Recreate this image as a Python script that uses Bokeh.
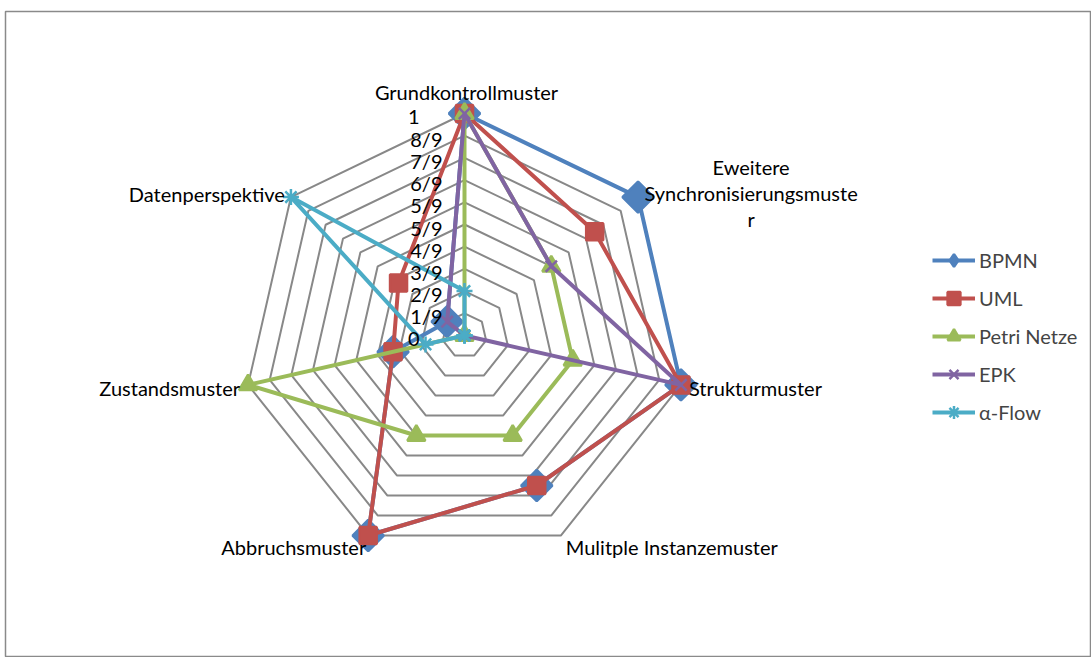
import numpy as np
from bokeh.plotting import figure
from bokeh.models import Range1d, Legend, LegendItem, ColumnDataSource
from bokeh.embed import file_html
from bokeh.resources import INLINE
from bokeh.core.properties import value

# ---------------- data ----------------
categories = ["Grundkontrollmuster", "Eweitere\nSynchronisierungsmuste\nr", "Strukturmuster",
              "Mulitple Instanzemuster", "Abbruchsmuster", "Zustandsmuster", "Datenperspektive"]
series_names = ["BPMN", "UML", "Petri Netze", "EPK", "α-Flow"]
bpmn = [1.0, 1.0, 1.0, 0.75, 1.0, 0.33, 0.1]
uml = [1.0, 0.75, 1.0, 0.75, 1.0, 0.33, 0.38]
petri = [1.0, 0.5, 0.5, 0.5, 0.5, 1.0, 0.0]
epk = [1.0, 0.5, 1.0, 0.0, 0.0, 0.0, 0.1]
alpha_flow = [0.2, 0.0, 0.0, 0.0, 0.0, 0.18, 1.0]
ring_values = [0.0, 0.1, 0.2, 0.3, 0.4, 0.5, 0.6, 0.7, 0.8, 0.9, 1.0]
ring_labels = ["0", "1/9", "2/9", "3/9", "4/9", "5/9", "5/9", "6/9", "7/9", "8/9", "1"]

# ---------------- styles ----------------
colors = ["#4F81BD", "#C0504D", "#9BBB59", "#8064A2", "#4BACC6"]
markers = ["square", "square", "triangle", "x", "asterisk"]
legend_markers = ["diamond", "square", "triangle", "x", "asterisk"]
angles = [np.pi / 4, 0, 0, 0, 0]
sizes = [22, 17, 18, 16, 16]
FONT = "Lato"
FS = "20px"

W, H = 1091, 657
CX, CY, R = 464, 335, 222   # pixel centre and radius of the web
LEFT, TOP = 5, 11

p = figure(width=W, height=H, output_backend="svg", toolbar_location=None,
           min_border_left=LEFT, min_border_top=TOP, min_border_right=0, min_border_bottom=0,
           x_range=Range1d((LEFT - CX) / R, (W - CX) / R),
           y_range=Range1d((CY - H) / R, (CY - TOP) / R))
p.xaxis.visible = False
p.yaxis.visible = False
p.grid.visible = False
p.outline_line_color = "#8a8a8a"
p.outline_line_width = 1.5
p.background_fill_color = "white"
p.border_fill_color = "white"

n = len(categories)
theta = np.arange(n) * 2 * np.pi / n

# rings (no spokes)
ring_xs, ring_ys = [], []
for rv in ring_values[1:]:
    t = np.concatenate([theta, theta[:1]])
    ring_xs.append(list(rv * np.sin(t)))
    ring_ys.append(list(rv * np.cos(t)))
p.multi_line(ring_xs, ring_ys, line_color="#888888", line_width=2)

# series
items = []
for name, vals, c, m, lm, a, s in zip(series_names, [bpmn, uml, petri, epk, alpha_flow],
                                      colors, markers, legend_markers, angles, sizes):
    v = np.array(vals)
    px = v * np.sin(theta)
    py = v * np.cos(theta)
    lr = p.line(list(px) + [px[0]], list(py) + [py[0]], line_color=c, line_width=4,
                line_join="round")
    p.scatter(px, py, marker=m, size=s, angle=a, fill_color=c, line_color=c,
              line_width=2.5)
    # legend-only marker (a NaN point, nothing drawn in the plot)
    legr = p.scatter(x=[np.nan], y=[np.nan], marker=lm, size=13, fill_color=c,
                     line_color=c, line_width=2.5)
    items.append(LegendItem(label=name, renderers=[lr, legr]))

# ring labels along the top axis
rl_src = ColumnDataSource(dict(
    x=[0.0] * len(ring_values), y=ring_values, text=ring_labels,
    xo=[-22 if "/" in t else -45 for t in ring_labels]))
p.text(x="x", y="y", text="text", source=rl_src, x_offset="xo", y_offset=3,
       text_align="right", text_baseline="middle", text_font=value(FONT),
       text_font_size=FS, text_color="black")

# category labels
cat_src = ColumnDataSource(dict(
    x=list(np.sin(theta)), y=list(np.cos(theta)), text=categories,
    align=["center", "center", "left", "left", "right", "right", "right"],
    xo=[2, 113, 8, 5, -2, -8, -6],
    yo=[-22, -4, 3, 11, 11, 3, -3]))
p.text(x="x", y="y", text="text", source=cat_src, x_offset="xo", y_offset="yo",
       text_align="align", text_baseline="middle", text_font=value(FONT),
       text_font_size=FS, text_color="black", text_line_height=1.1)

legend = Legend(items=items, location=(927, 229), glyph_width=43, glyph_height=32,
                spacing=6, padding=0, margin=0, border_line_color=None,
                background_fill_alpha=0, label_text_font=FONT,
                label_text_font_size=FS, label_standoff=4)
p.add_layout(legend)

open("out.html", "w").write(file_html(p, INLINE))
